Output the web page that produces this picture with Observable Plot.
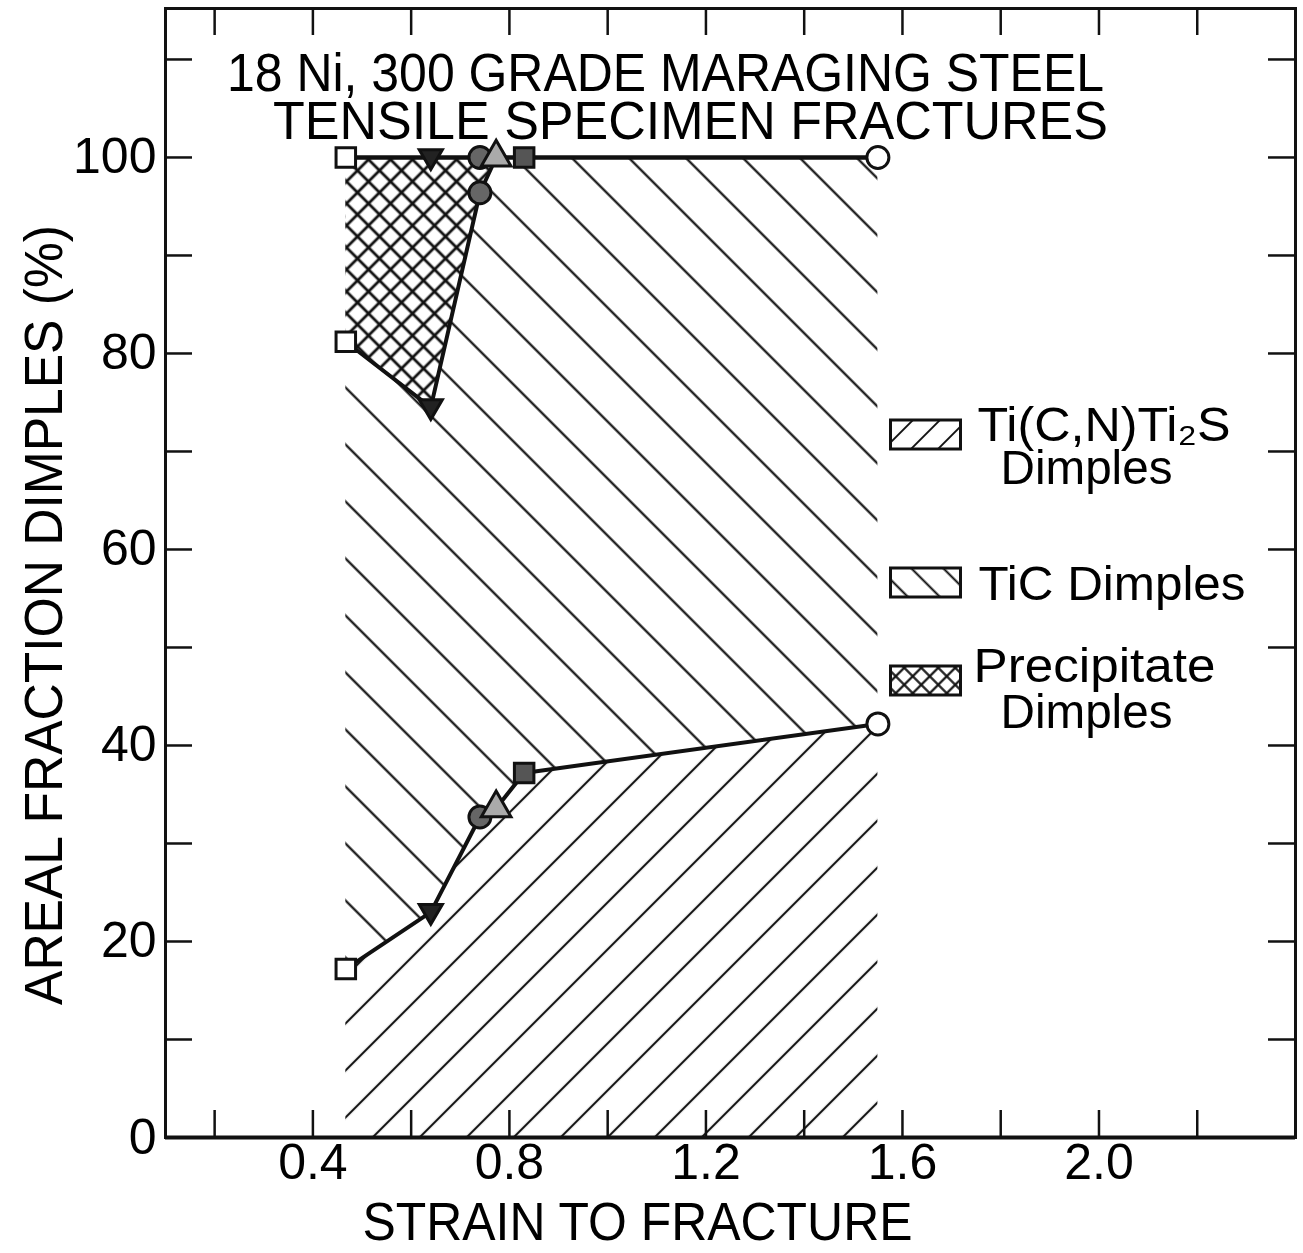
<!DOCTYPE html>
<html><head><meta charset="utf-8">
<script src="https://cdn.jsdelivr.net/npm/d3@7"></script>
<script src="https://cdn.jsdelivr.net/npm/@observablehq/plot@0.6"></script>
<style>
html,body{margin:0;padding:0;background:#fff;}
#chart svg{display:block;}
</style></head>
<body><div id="chart"></div>
<script>
// ---- data ----
const specimens = ["A", "B", "C", "D", "E", "F"];
const strainToFracture = [0.467, 0.640, 0.740, 0.773, 0.830, 1.550];
const tiCNTi2SBoundary = [17.2, 23.0, 32.7, 33.6, 37.2, 42.2];   // top of Ti(C,N)Ti2S dimples (%)
const precipitateBoundary = [81.2, 74.5, 96.4, 100, 100, 100];   // bottom of precipitate dimples (%)
const totalDimples = [100, 100, 100, 100, 100, 100];

const xTickValues = [0.2, 0.4, 0.6, 0.8, 1.0, 1.2, 1.4, 1.6, 1.8, 2.0, 2.2];
const xTickLabels = [0.4, 0.8, 1.2, 1.6, 2.0];
const yTickValues = [10, 20, 30, 40, 50, 60, 70, 80, 90, 100, 110];
const yTickLabels = [0, 20, 40, 60, 80, 100];

const titleLines = ["18 Ni, 300 GRADE MARAGING STEEL", "TENSILE SPECIMEN FRACTURES"];
const xLabel = "STRAIN TO FRACTURE";
const yLabel = "AREAL FRACTION DIMPLES (%)";
const legendLines = ["Ti(C,N)Ti₂S", "Dimples", "TiC Dimples", "Precipitate", "Dimples"];

// ---- layout ----
const W = 1303, H = 1253;
const mL = 165, mR = 8, mT = 8, mB = 116;
const FW = W - mL - mR, FH = H - mT - mB;
const TL = 27;

const rows = specimens.map((s, i) => ({
  specimen: s, strain: strainToFracture[i],
  lower: tiCNTi2SBoundary[i], precip: precipitateBoundary[i], total: totalDimples[i]
}));
const precipRows = rows.slice(0, rows.findIndex(r => r.precip >= r.total) + 1);

const triDown = {draw(ctx, size) {
  const r = Math.sqrt(size / Math.PI);
  ctx.moveTo(-r * 1.05, -r * 0.7); ctx.lineTo(r * 1.05, -r * 0.7); ctx.lineTo(0, r * 1.1); ctx.closePath();
}};
const swatch = {draw(ctx) { ctx.rect(-35, -14.5, 70, 29); }};

const F = "Liberation Sans";
const T = (d) => d;
const chart = Plot.plot({
  width: W, height: H,
  marginLeft: mL, marginRight: mR, marginTop: mT, marginBottom: mB,
  x: {domain: [0.1, 2.4], axis: null},
  y: {domain: [0, 115.2], axis: null},
  symbol: {domain: specimens, range: ["square", triDown, "circle", "triangle", "square", "circle"]},
  color: {domain: specimens, range: ["white", "#222", "#666", "#aaa", "#555", "white"]},
  style: {fontFamily: F, color: "black", background: "white"},
  marks: [
    Plot.areaY(rows, {x: "strain", y1: "lower", y2: "total", fill: "url(#hatchTiC)"}),
    Plot.areaY(rows, {x: "strain", y1: 0, y2: "lower", fill: "url(#hatchTiCN)"}),
    Plot.areaY(precipRows, {x: "strain", y1: "precip", y2: "total", fill: "white"}),
    Plot.areaY(precipRows, {x: "strain", y1: "precip", y2: "total", fill: "url(#hatchPrecip)"}),
    Plot.line(rows, {x: "strain", y: "total", stroke: "#111", strokeWidth: 4.5}),
    Plot.line(rows, {x: "strain", y: "lower", stroke: "#111", strokeWidth: 4}),
    Plot.line(precipRows, {x: "strain", y: "precip", stroke: "#111", strokeWidth: 4}),
    Plot.dot(rows, {x: "strain", y: "total", symbol: "specimen", fill: "specimen", stroke: "#111", strokeWidth: 3, r: 11}),
    Plot.dot(rows, {x: "strain", y: "lower", symbol: "specimen", fill: "specimen", stroke: "#111", strokeWidth: 3, r: 11}),
    Plot.dot(precipRows.filter(r => r.precip < r.total), {x: "strain", y: "precip", symbol: "specimen", fill: "specimen", stroke: "#111", strokeWidth: 3, r: 11}),
    // frame & ticks
    Plot.frame({stroke: "#111", strokeWidth: 3}),
    Plot.ruleY([0], {stroke: "#111", strokeWidth: 4}),
    Plot.tickX(xTickValues, {x: d => d, insetTop: FH - TL, stroke: "#111", strokeWidth: 2.5}),
    Plot.tickX(xTickValues, {x: d => d, insetBottom: FH - TL, stroke: "#111", strokeWidth: 2.5}),
    Plot.tickY(yTickValues, {y: d => d, insetRight: FW - TL, stroke: "#111", strokeWidth: 2.5}),
    Plot.tickY(yTickValues, {y: d => d, insetLeft: FW - TL, stroke: "#111", strokeWidth: 2.5}),
    // tick labels
    Plot.text(xTickLabels, {x: d => d, frameAnchor: "bottom", dy: 25, lineAnchor: "middle", textAnchor: "middle", text: d => d.toFixed(1), fontSize: 50}),
    Plot.text(yTickLabels, {y: d => d, frameAnchor: "left", dx: -9, lineAnchor: "middle", textAnchor: "end", text: d => String(d), fontSize: 50}),
    // titles and axis labels
    Plot.text([titleLines[0]], {text: T, frameAnchor: "top", dx: -65, dy: 66, lineAnchor: "middle", textAnchor: "middle", fontSize: 53}),
    Plot.text([titleLines[1]], {text: T, frameAnchor: "top", dx: -40, dy: 114, lineAnchor: "middle", textAnchor: "middle", fontSize: 53}),
    Plot.text([xLabel], {text: T, frameAnchor: "bottom", dx: -93, dy: 86, lineAnchor: "middle", textAnchor: "middle", fontSize: 53}),
    Plot.text([yLabel], {text: T, frameAnchor: "left", dx: -120, dy: 42, rotate: -90, lineAnchor: "middle", textAnchor: "middle", fontSize: 53}),
    // legend
    Plot.dot([legendLines[0]], {frameAnchor: "top-left", dx: 760, dy: 426, symbol: swatch, fill: "url(#legTiCN)", stroke: "#111", strokeWidth: 3}),
    Plot.dot([legendLines[2]], {frameAnchor: "top-left", dx: 760, dy: 574, symbol: swatch, fill: "url(#legTiC)", stroke: "#111", strokeWidth: 3}),
    Plot.dot([legendLines[3]], {frameAnchor: "top-left", dx: 760, dy: 672, symbol: swatch, fill: "url(#legPrecip)", stroke: "#111", strokeWidth: 3}),
    Plot.text([legendLines[0]], {text: T, frameAnchor: "top-left", dx: 812, dy: 417, lineAnchor: "middle", textAnchor: "start", fontSize: 49}),
    Plot.text([legendLines[1]], {text: T, frameAnchor: "top-left", dx: 835, dy: 460, lineAnchor: "middle", textAnchor: "start", fontSize: 49}),
    Plot.text([legendLines[2]], {text: T, frameAnchor: "top-left", dx: 813, dy: 576, lineAnchor: "middle", textAnchor: "start", fontSize: 49}),
    Plot.text([legendLines[3]], {text: T, frameAnchor: "top-left", dx: 808, dy: 658, lineAnchor: "middle", textAnchor: "start", fontSize: 49}),
    Plot.text([legendLines[4]], {text: T, frameAnchor: "top-left", dx: 835, dy: 704, lineAnchor: "middle", textAnchor: "start", fontSize: 49})
  ]
});
document.getElementById("chart").appendChild(chart);

// ---- hatch patterns ----
const svg = d3.select(chart.tagName.toLowerCase() === "svg" ? chart : chart.querySelector("svg"));
const defs = svg.insert("defs", ":first-child");
function hatch(id, period, angle, phase, sw, cross) {
  const s = period / Math.SQRT2;
  const p = defs.append("pattern").attr("id", id).attr("patternUnits", "userSpaceOnUse")
    .attr("width", s).attr("height", s)
    .attr("x", (phase - period / 2) / Math.SQRT2).attr("y", 0)
    .attr("patternTransform", `rotate(${angle})`);
  p.append("line").attr("x1", s / 2).attr("x2", s / 2).attr("y1", -1).attr("y2", s + 1)
    .attr("stroke", "#111").attr("stroke-width", sw);
  if (cross) p.append("line").attr("y1", s / 2).attr("y2", s / 2).attr("x1", -1).attr("x2", s + 1)
    .attr("stroke", "#111").attr("stroke-width", sw);
}
hatch("hatchTiC", 57, -45, 471, 2.2, false);
hatch("hatchTiCN", 47, 45, 1886, 2.2, false);
hatch("hatchPrecip", 22, 45, 0, 2.8, true);
hatch("legTiCN", 27, 45, 0, 2, false);
hatch("legTiC", 32, -45, 0, 2, false);
hatch("legPrecip", 17, 45, 0, 2.2, true);

// ---- fit lettering widths to the reference ----
const widths = {
  "18 Ni, 300 GRADE MARAGING STEEL": 877,
  "TENSILE SPECIMEN FRACTURES": 835,
  "STRAIN TO FRACTURE": 550,
  "AREAL FRACTION DIMPLES (%)": 780,
  "Ti(C,N)Ti₂S": 253,
  "Dimples": 172,
  "TiC Dimples": 267,
  "Precipitate": 242
};
svg.selectAll("text").each(function () {
  const w = widths[this.textContent];
  if (w) d3.select(this).attr("textLength", w).attr("lengthAdjust", "spacingAndGlyphs");
});
</script>
</body></html>
